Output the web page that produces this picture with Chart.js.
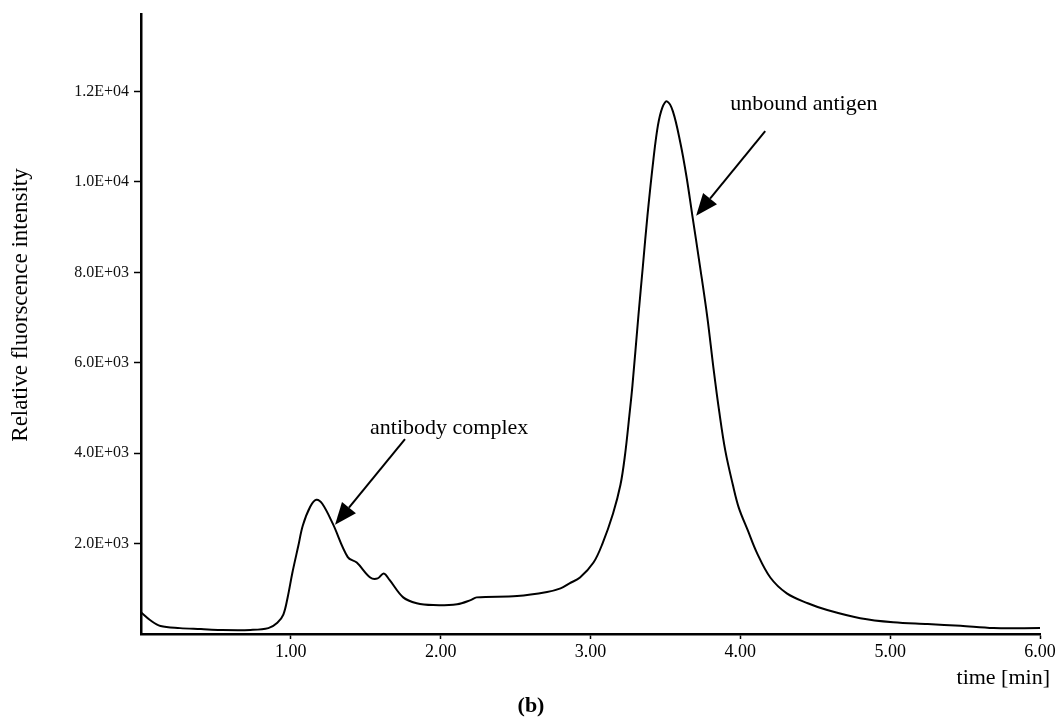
<!DOCTYPE html>
<html>
<head>
<meta charset="utf-8">
<script src="https://cdn.jsdelivr.net/npm/chart.js@4.4.1/dist/chart.umd.min.js"></script>
<style>
    html, body { margin: 0; padding: 0; background: #fff; }
    #wrap { width: 1060px; height: 722px; }
</style>
</head>
<body>
<div id="wrap"><canvas id="elutionChart" width="1060" height="722"></canvas></div>
<script>
// Elution profile (b): relative fluorescence vs. time

const timeMin = [0.00, 0.06, 0.13, 0.26, 0.40, 0.53, 0.73, 0.85, 0.91, 0.95,
    0.98, 1.01, 1.05, 1.08, 1.13, 1.17, 1.21, 1.28, 1.38, 1.44,
    1.53, 1.58, 1.62, 1.66, 1.75, 1.84, 1.95, 2.11, 2.20, 2.24,
    2.51, 2.71, 2.80, 2.86, 2.93, 3.02, 3.08, 3.15, 3.20, 3.23,
    3.26, 3.28, 3.32, 3.35, 3.38, 3.42, 3.45, 3.48, 3.51, 3.55,
    3.60, 3.64, 3.68, 3.73, 3.78, 3.82, 3.86, 3.90, 3.95, 3.99,
    4.05, 4.11, 4.20, 4.31, 4.45, 4.58, 4.80, 5.02, 5.25, 5.47,
    5.69, 6.00];

const intensity = [480, 310, 175, 130, 110, 90, 90, 130, 250, 430,
    830, 1350, 1950, 2400, 2820, 2970, 2880, 2440, 1700, 1580,
    1250, 1230, 1340, 1190, 810, 680, 640, 660, 750, 810,
    840, 930, 1010, 1120, 1250, 1580, 2000, 2660, 3300, 3950,
    4850, 5500, 7050, 8150, 9250, 10500, 11250, 11650, 11780, 11560,
    10860, 10130, 9250, 8150, 7000, 5900, 4900, 4050, 3300, 2790,
    2290, 1800, 1250, 900, 680, 530, 350, 260, 220, 180,
    130, 130];

const xTicks = [1, 2, 3, 4, 5, 6];
const yTicks = [2000, 4000, 6000, 8000, 10000, 12000];

// peak labels: text anchor and arrow (tail -> tip), in data units
const peakLabels = ['antibody complex', 'unbound antigen'];
const labelAt = [[1.529, 4418], [3.932, 11582]];
const arrowFrom = [[1.762, 4308], [4.166, 11121]];
const arrowTo = [[1.295, 2418], [3.705, 9253]];

const serif = '"Liberation Serif", "Times New Roman", serif';

function sci(v) {
    const exp = Math.floor(Math.log10(v));
    const mant = (v / Math.pow(10, exp)).toFixed(1);
    return mant + 'E+' + String(exp).padStart(2, '0');
}

const textPlugin = {
    id: 'figText',
    afterDraw(chart) {
        const c = chart.ctx;
        const xs = chart.scales.x, ys = chart.scales.y;
        c.save();
        c.fillStyle = '#000';
        c.strokeStyle = '#000';

        // arrows + labels
        c.font = '22px ' + serif;
        c.textAlign = 'left';
        c.textBaseline = 'alphabetic';
        peakLabels.forEach(function(txt, i) {
            c.fillText(txt, xs.getPixelForValue(labelAt[i][0]), ys.getPixelForValue(labelAt[i][1]));
            const x0 = xs.getPixelForValue(arrowFrom[i][0]), y0 = ys.getPixelForValue(arrowFrom[i][1]);
            const x1 = xs.getPixelForValue(arrowTo[i][0]), y1 = ys.getPixelForValue(arrowTo[i][1]);
            const a = Math.atan2(y1 - y0, x1 - x0);
            const hl = 22, hw = 9;
            const bx = x1 - hl * Math.cos(a), by = y1 - hl * Math.sin(a);
            c.lineWidth = 2;
            c.beginPath();
            c.moveTo(x0, y0);
            c.lineTo(bx, by);
            c.stroke();
            c.beginPath();
            c.moveTo(x1, y1);
            c.lineTo(bx + hw * Math.sin(a), by - hw * Math.cos(a));
            c.lineTo(bx - hw * Math.sin(a), by + hw * Math.cos(a));
            c.closePath();
            c.fill();
        });

        // axis titles
        c.font = '22px ' + serif;
        c.textAlign = 'right';
        c.fillText('time [min]', 1050, 684);

        c.save();
        c.translate(27, 305);
        c.rotate(-Math.PI / 2);
        c.textAlign = 'center';
        c.font = '23px ' + serif;
        c.fillText('Relative fluorscence intensity', 0, 0);
        c.restore();

        c.font = 'bold 22px ' + serif;
        c.textAlign = 'center';
        c.fillText('(b)', 531, 712);
        c.restore();
    }
};

new Chart(document.getElementById('elutionChart'), {
    type: 'line',
    data: {
        datasets: [{
            data: timeMin.map((t, i) => ({ x: t, y: intensity[i] })),
            borderColor: '#000',
            borderWidth: 2,
            pointRadius: 0,
            fill: false,
            tension: 0.35
        }]
    },
    options: {
        responsive: false,
        devicePixelRatio: 1,
        animation: false,
        layout: { padding: { left: 0, right: 20, top: 12, bottom: 0 } },
        scales: {
            x: {
                type: 'linear',
                min: 0,
                max: 6,
                afterBuildTicks: s => { s.ticks = xTicks.map(v => ({ value: v })); },
                afterFit: s => { s.height = 88; },
                ticks: {
                    callback: v => v.toFixed(2),
                    color: '#000',
                    padding: 2,
                    maxRotation: 0,
                    font: { family: serif, size: 18 }
                },
                grid: { drawOnChartArea: false, tickLength: 5, tickColor: '#000', tickWidth: 1.5 },
                border: { display: true, color: '#000', width: 2.5 }
            },
            y: {
                min: 0,
                max: 13700,
                afterBuildTicks: s => { s.ticks = yTicks.map(v => ({ value: v })); },
                afterFit: s => { s.width = 141; },
                ticks: {
                    callback: v => sci(v),
                    color: '#111',
                    padding: 5,
                    font: { family: serif, size: 16 }
                },
                grid: { drawOnChartArea: false, tickLength: 7, tickColor: '#000', tickWidth: 1.5 },
                border: { display: true, color: '#000', width: 2.5 }
            }
        },
        plugins: {
            legend: { display: false },
            tooltip: { enabled: false }
        }
    },
    plugins: [textPlugin]
});
</script>
</body>
</html>
